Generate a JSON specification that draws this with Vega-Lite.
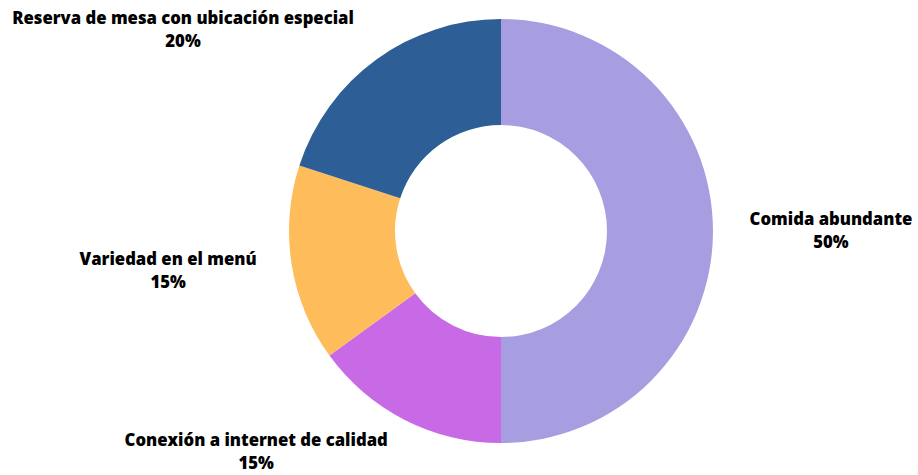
{
  "$schema": "https://vega.github.io/schema/vega-lite/v6.json",
  "autosize": {"type": "none"},
  "width": 834,
  "height": 462,
  "padding": {"left": 84, "right": 0, "top": 0, "bottom": 13},
  "background": "white",
  "view": {"stroke": null},
  "data": {
    "values": [
      {"categoria": "Comida abundante", "porcentaje": 50},
      {"categoria": "Conexión a internet de calidad", "porcentaje": 15},
      {"categoria": "Variedad en el menú", "porcentaje": 15},
      {"categoria": "Reserva de mesa con ubicación especial", "porcentaje": 20}
    ]
  },
  "transform": [
    {"window": [{"op": "row_number", "as": "orden"}]},
    {"stack": "porcentaje", "groupby": [], "sort": [{"field": "orden"}], "as": ["t0", "t1"]},
    {"calculate": "(datum.t0 + datum.t1) / 2", "as": "tm"},
    {"calculate": "[datum.categoria, datum.porcentaje + '%']", "as": "etiqueta"}
  ],
  "layer": [
    {
      "mark": {"type": "arc", "radius": 212, "innerRadius": 106},
      "encoding": {
        "theta": {"field": "t0", "type": "quantitative", "scale": {"domain": [0, 100]}},
        "theta2": {"field": "t1"},
        "color": {
          "field": "categoria",
          "type": "nominal",
          "scale": {
            "domain": ["Comida abundante", "Conexión a internet de calidad", "Variedad en el menú", "Reserva de mesa con ubicación especial"],
            "range": ["#A79EE2", "#C86AE6", "#FEBC5A", "#2D5F96"]
          },
          "legend": null
        }
      }
    },
    {
      "transform": [{"filter": "datum.orden == 1"}],
      "mark": {"type": "text", "radius": 330, "dy": -11, "font": "Open Sans", "fontWeight": 800, "fontSize": 16.7, "lineHeight": 23, "align": "center", "baseline": "middle", "color": "black"},
      "encoding": {"theta": {"field": "tm", "type": "quantitative", "scale": {"domain": [0, 100]}}, "text": {"field": "etiqueta"}}
    },
    {
      "transform": [{"filter": "datum.orden == 2"}],
      "mark": {"type": "text", "radius": 330, "dx": -95, "dy": -84, "font": "Open Sans", "fontWeight": 800, "fontSize": 16.7, "lineHeight": 23, "align": "center", "baseline": "middle", "color": "black"},
      "encoding": {"theta": {"field": "tm", "type": "quantitative", "scale": {"domain": [0, 100]}}, "text": {"field": "etiqueta"}}
    },
    {
      "transform": [{"filter": "datum.orden == 3"}],
      "mark": {"type": "text", "radius": 330, "dx": -7, "dy": -23, "font": "Open Sans", "fontWeight": 800, "fontSize": 16.7, "lineHeight": 23, "align": "center", "baseline": "middle", "color": "black"},
      "encoding": {"theta": {"field": "tm", "type": "quantitative", "scale": {"domain": [0, 100]}}, "text": {"field": "etiqueta"}}
    },
    {
      "transform": [{"filter": "datum.orden == 4"}],
      "mark": {"type": "text", "radius": 330, "dx": -124, "dy": 55, "font": "Open Sans", "fontWeight": 800, "fontSize": 16.7, "lineHeight": 23, "align": "center", "baseline": "middle", "color": "black"},
      "encoding": {"theta": {"field": "tm", "type": "quantitative", "scale": {"domain": [0, 100]}}, "text": {"field": "etiqueta"}}
    }
  ]
}
